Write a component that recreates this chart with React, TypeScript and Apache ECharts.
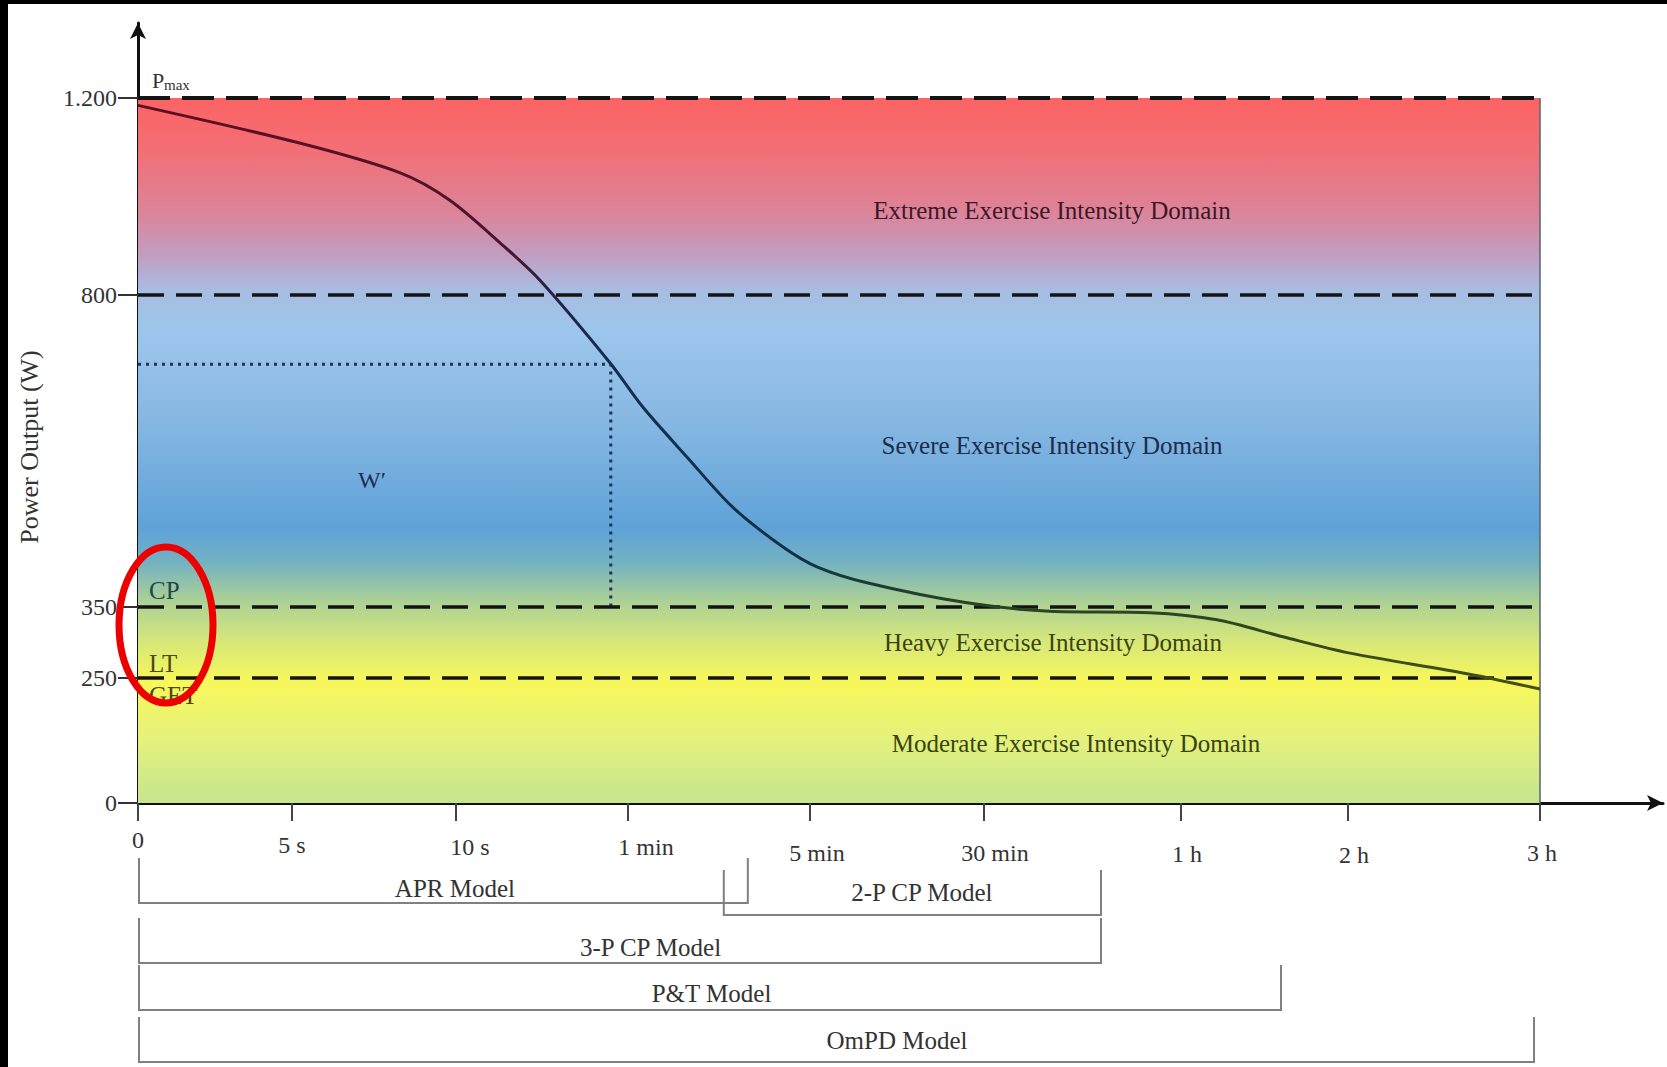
import React, { useEffect, useRef } from 'react';
import * as echarts from 'echarts';

// ---------- data ----------
const xTickLabels = ['0', '5 s', '10 s', '1 min', '5 min', '30 min', '1 h', '2 h', '3 h'];
const xTickSeconds = [0, 5, 10, 60, 300, 1800, 3600, 7200, 10800];
const yTickLabels = ['0', '250', '350', '800', '1.200'];
const yTickWatts = [0, 250, 350, 800, 1200];

// power-duration curve (time in s, power in W)
const curveSeconds = [0, 5.2, 8.3, 9.8, 22.8, 34.4, 54.8, 79.8, 138, 198, 264, 360, 791, 1653, 2403, 3317, 4376, 5799, 7238, 9431, 10800];
const curveWatts = [1185, 1109, 1048, 993, 906, 830, 702, 638, 566, 494, 437, 408, 385, 356, 344, 342, 332, 308, 285, 256, 228];

const domainNames = [
  'Moderate Exercise Intensity Domain',
  'Heavy Exercise Intensity Domain',
  'Severe Exercise Intensity Domain',
  'Extreme Exercise Intensity Domain',
];
const domainBounds = [0, 250, 350, 800, 1200];

const wPrimeSeconds = 55;
const wPrimeWatts = 700;
const cpWatts = 350;

const modelNames = ['APR Model', '2-P CP Model', '3-P CP Model', 'P&T Model', 'OmPD Model'];
const modelStartSeconds = [0, 185, 0, 0, 0];
const modelEndSeconds = [218, 2869, 2869, 5756, 10688];

// ---------- drawing scale of the original (non-linear axes) ----------
const xScaleUnits = [0, 154, 318, 490, 672, 846, 1043, 1210, 1402];
const yScaleUnits = [0, 125, 196, 508, 705];
const X_MAX = 1525;
const Y_MAX = 780;

// ---------- layout / style ----------
const FONT = '"Liberation Serif", "Times New Roman", Times, serif';
const xLabelPadTop = [0, 5, 7, 7, 13, 13, 14, 15, 13];
const xLabelShift = [0, 0, 14, 18, 7, 11, 6, 6, 2];
const bracketTop = [55, 67, 115, 162, 214];
const BRACKET_H = 45;
const bracketLabelDx = [12, 10, 31, 2, 61];
const bracketLabelDy = [85, 89, 144, 190, 237];
const domainLabelPos = [
  [1076, 743],
  [1053, 642],
  [1052, 445],
  [1052, 210],
];
const domainLabelColor = ['#3a4412', '#3a4412', '#1b2c4c', '#3b1828'];

function warp(v: number, from: number[], to: number[]) {
  for (let i = 0; i < from.length - 1; i++) {
    if (v <= from[i + 1]) {
      return to[i] + ((v - from[i]) / (from[i + 1] - from[i])) * (to[i + 1] - to[i]);
    }
  }
  return to[to.length - 1];
}
const xu = (s: number) => warp(s, xTickSeconds, xScaleUnits);
const yu = (w: number) => warp(w, yTickWatts, yScaleUnits);

function findIndex(v: number, units: number[]) {
  for (let i = 0; i < units.length; i++) if (Math.abs(units[i] - v) < 0.5) return i;
  return -1;
}

function buildOption() {
  const bgGradient = new echarts.graphic.LinearGradient(0, 0, 0, 1, [
    { offset: 0, color: '#fc6363' },
    { offset: 0.07, color: '#f36e74' },
    { offset: 0.16, color: '#dd8398' },
    { offset: 0.22, color: '#c39cbf' },
    { offset: 0.27, color: '#a9bbe0' },
    { offset: 0.33, color: '#9dc6ec' },
    { offset: 0.46, color: '#86b7e2' },
    { offset: 0.61, color: '#5fa2d8' },
    { offset: 0.66, color: '#74b2c0' },
    { offset: 0.71, color: '#a9cf98' },
    { offset: 0.77, color: '#d6e77a' },
    { offset: 0.83, color: '#f8f85a' },
    { offset: 0.91, color: '#e4f17c' },
    { offset: 1, color: '#c6e58f' },
  ]);
  const curveGradient = new echarts.graphic.LinearGradient(0, 0, 0, 1, [
    { offset: 0, color: '#5e0f20' },
    { offset: 0.25, color: '#4a1530' },
    { offset: 0.33, color: '#22244a' },
    { offset: 0.45, color: '#132d52' },
    { offset: 0.78, color: '#0e3344' },
    { offset: 0.86, color: '#2a4422' },
    { offset: 1, color: '#46520f' },
  ]);

  const xEnd = xu(xTickSeconds[xTickSeconds.length - 1]);
  const thresholdLines = domainBounds.slice(1).map((w) => [
    {
      coord: [0, yu(w)],
      lineStyle: {
        color: '#141414',
        width: w === 1200 ? 4 : 3.5,
        type: w === 1200 ? [32, 12] : [26, 12],
      },
    },
    { coord: [xEnd, yu(w)] },
  ]);
  const rightBorder = [
    { coord: [xEnd, 0], lineStyle: { color: '#56666e', width: 1.5, type: 'solid' } },
    { coord: [xEnd, yu(domainBounds[domainBounds.length - 1])] },
  ];

  const xRich: Record<string, any> = {};
  xTickLabels.forEach((_, i) => {
    xRich['t' + i] = { padding: [xLabelPadTop[i], 0, 0, xLabelShift[i] * 2] };
  });

  const graphicTexts: any[] = domainNames.map((name, i) => ({
    type: 'text',
    x: domainLabelPos[i][0],
    y: domainLabelPos[i][1],
    z: 10,
    style: {
      text: name,
      font: `25px ${FONT}`,
      fill: domainLabelColor[i],
      align: 'center',
      verticalAlign: 'middle',
    },
  }));

  return {
    animation: false,
    backgroundColor: '#ffffff',
    grid: {
      left: 138,
      top: 23,
      right: 4,
      bottom: 264,
      containLabel: false,
      outerBoundsMode: 'none',
    },
    xAxis: {
      type: 'value',
      min: 0,
      max: X_MAX,
      axisLine: {
        show: true,
        onZero: false,
        lineStyle: { color: '#111', width: 3 },
        symbol: ['none', 'arrow'],
        symbolSize: [12, 16],
      },
      axisTick: {
        show: true,
        customValues: xScaleUnits,
        length: 18,
        lineStyle: { color: '#444', width: 2 },
      },
      axisLabel: {
        customValues: xScaleUnits,
        formatter: (v: number) => {
          const i = findIndex(v, xScaleUnits);
          return i < 0 ? '' : `{t${i}|${xTickLabels[i]}}`;
        },
        rich: xRich,
        margin: 25,
        fontSize: 24,
        color: '#333',
        fontFamily: FONT,
      },
      splitLine: { show: false },
    },
    yAxis: {
      type: 'value',
      min: 0,
      max: Y_MAX,
      axisLine: {
        show: true,
        lineStyle: { color: '#111', width: 3 },
        symbol: ['none', 'arrow'],
        symbolSize: [12, 16],
      },
      axisTick: {
        show: true,
        customValues: yScaleUnits,
        length: 20,
        lineStyle: { color: '#333', width: 2 },
      },
      axisLabel: {
        customValues: yScaleUnits,
        formatter: (v: number) => {
          const i = findIndex(v, yScaleUnits);
          return i < 0 ? '' : yTickLabels[i];
        },
        margin: 21,
        fontSize: 24,
        color: '#333',
        fontFamily: FONT,
      },
      splitLine: { show: false },
    },
    series: [
      {
        name: 'domains',
        type: 'line',
        data: [],
        silent: true,
        z: 1,
        markArea: {
          silent: true,
          itemStyle: { color: bgGradient },
          data: [
            [
              { coord: [0, yu(domainBounds[0])] },
              { coord: [xEnd, yu(domainBounds[domainBounds.length - 1])] },
            ],
          ],
        },
        markLine: {
          silent: true,
          symbol: ['none', 'none'],
          label: { show: false },
          z: 4,
          data: [...thresholdLines, rightBorder],
        },
      },
      {
        name: "W'",
        type: 'line',
        silent: true,
        z: 3,
        showSymbol: false,
        data: [
          [xu(0), yu(wPrimeWatts)],
          [xu(wPrimeSeconds), yu(wPrimeWatts)],
          [xu(wPrimeSeconds), yu(cpWatts)],
        ],
        lineStyle: { color: '#1c3456', width: 3, type: [3, 5] },
      },
      {
        name: 'power-duration',
        type: 'line',
        silent: true,
        z: 6,
        smooth: 0.3,
        showSymbol: false,
        data: curveSeconds.map((s, i) => [xu(s), yu(curveWatts[i])]),
        lineStyle: { color: curveGradient, width: 3 },
      },
      {
        name: 'models',
        type: 'custom',
        silent: true,
        clip: false,
        z: 5,
        encode: { x: [0, 1], y: 2 },
        data: modelNames.map((_, i) => [xu(modelStartSeconds[i]), xu(modelEndSeconds[i]), i]),
        renderItem: (params: any, api: any) => {
          const i = api.value(2);
          const p1 = api.coord([api.value(0), 0]);
          const p2 = api.coord([api.value(1), 0]);
          const base = p1[1];
          const top = base + bracketTop[i];
          const bot = top + BRACKET_H;
          return {
            type: 'group',
            children: [
              {
                type: 'polyline',
                shape: {
                  points: [
                    [p1[0] + 1, top],
                    [p1[0] + 1, bot],
                    [p2[0], bot],
                    [p2[0], top],
                  ],
                },
                style: { stroke: '#808080', lineWidth: 2, fill: null },
              },
              {
                type: 'text',
                x: (p1[0] + p2[0]) / 2 + bracketLabelDx[i],
                y: base + bracketLabelDy[i],
                style: {
                  text: modelNames[i],
                  font: `25px ${FONT}`,
                  fill: '#333',
                  align: 'center',
                  verticalAlign: 'middle',
                },
              },
            ],
          };
        },
      },
    ],
    graphic: [
      { type: 'rect', shape: { x: 0, y: 0, width: 1667, height: 4 }, style: { fill: '#000' }, z: 100 },
      { type: 'rect', shape: { x: 0, y: 0, width: 8, height: 1067 }, style: { fill: '#000' }, z: 100 },
      ...graphicTexts,
      {
        type: 'text',
        x: 29,
        y: 447,
        rotation: Math.PI / 2,
        z: 10,
        style: {
          text: 'Power Output (W)',
          font: `26px ${FONT}`,
          fill: '#333',
          align: 'center',
          verticalAlign: 'middle',
        },
      },
      {
        type: 'text',
        x: 372,
        y: 480,
        z: 10,
        style: { text: 'W′', font: `24px ${FONT}`, fill: '#1c2f50', align: 'center', verticalAlign: 'middle' },
      },
      {
        type: 'text',
        x: 149,
        y: 590,
        z: 10,
        style: { text: 'CP', font: `25px ${FONT}`, fill: '#1e4a46', align: 'left', verticalAlign: 'middle' },
      },
      {
        type: 'text',
        x: 149,
        y: 663,
        z: 10,
        style: { text: 'LT', font: `25px ${FONT}`, fill: '#4a4a10', align: 'left', verticalAlign: 'middle' },
      },
      {
        type: 'text',
        x: 149,
        y: 695,
        z: 3,
        style: { text: 'GET', font: `25px ${FONT}`, fill: '#4a4a10', align: 'left', verticalAlign: 'middle' },
      },
      {
        type: 'text',
        x: 152,
        y: 80,
        z: 10,
        style: { text: 'P', font: `22px ${FONT}`, fill: '#333', align: 'left', verticalAlign: 'middle' },
      },
      {
        type: 'text',
        x: 164,
        y: 85,
        z: 10,
        style: { text: 'max', font: `15px ${FONT}`, fill: '#333', align: 'left', verticalAlign: 'middle' },
      },
      {
        type: 'ellipse',
        shape: { cx: 166, cy: 625, rx: 47, ry: 78 },
        z: 50,
        style: { fill: null, stroke: '#ec0000', lineWidth: 7 },
      },
    ],
  };
}

export default function App() {
  const ref = useRef<HTMLDivElement>(null);
  useEffect(() => {
    if (!ref.current) return;
    const chart = echarts.init(ref.current, null, { renderer: 'svg' });
    chart.setOption(buildOption() as any);
    return () => chart.dispose();
  }, []);
  return (
    <div
      ref={ref}
      style={{ position: 'absolute', left: 0, top: 0, width: 1667, height: 1067, background: '#fff' }}
    />
  );
}
